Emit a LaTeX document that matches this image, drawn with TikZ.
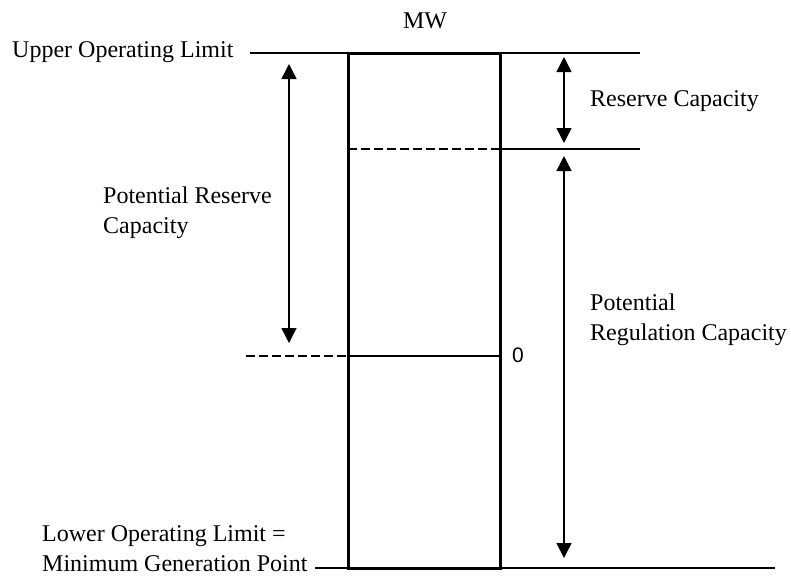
\documentclass[tikz,border=0pt]{standalone}
\usepackage{fontspec}
\setmainfont{Liberation Serif}
\newfontfamily\zerofont{Liberation Sans}
\usetikzlibrary{arrows.meta}
\begin{document}
\begin{tikzpicture}[x=1pt,y=-1pt,
  thin line/.style={line width=1.4pt},
  box line/.style={line width=3pt},
  dash line/.style={line width=2.6pt, dash pattern=on 9pt off 4pt},
  dim arrow/.style={line width=1.4pt, {Triangle[width=15pt,length=15pt]}-{Triangle[width=15pt,length=15pt]}},
  lbl/.style={font=\fontsize{24}{30}\selectfont, inner sep=0pt, align=left},
]
\useasboundingbox (0,0) rectangle (791,579);
% key coordinates
\coordinate (ulL) at (250,53);
\coordinate (bTL) at (348,53);
\coordinate (bTR) at (500,53);
\coordinate (ulR) at (640,53);
\coordinate (rL) at (348,149);
\coordinate (rR) at (500,149);
\coordinate (rE) at (640,149);
\coordinate (zS) at (246,356);
\coordinate (zL) at (348,356);
\coordinate (zR) at (500,356);
\coordinate (llS) at (315,568);
\coordinate (bBL) at (348,568);
\coordinate (bBR) at (500,568);
\coordinate (llE) at (775,568);
\coordinate (a1t) at (289,64);
\coordinate (a1b) at (289,343);
\coordinate (a2t) at (564,57);
\coordinate (a2b) at (564,143);
\coordinate (a3t) at (564,156);
\coordinate (a3b) at (564,558);
% lines
\draw[thin line] (ulL) -- (bTL);
\draw[thin line] (bTR) -- (ulR);
\draw[thin line] (rR) -- (rE);
\draw[thin line] (llS) -- (bBL);
\draw[thin line] (bBR) -- (llE);
\draw[dash line] (rL) -- (rR);
\draw[dash line] (zS) -- (zL);
\draw[line width=2.6pt] (zL) -- (zR);
\draw[box line] (bTL) rectangle (bBR);
% arrows
\draw[dim arrow] (a1t) -- (a1b);
\draw[dim arrow] (a2t) -- (a2b);
\draw[dim arrow] (a3t) -- (a3b);
% labels
\node[lbl, anchor=center] (mw) at (425,21) {MW};
\node[lbl, anchor=west] (ul) at (12,52) {Upper Operating Limit};
\node[lbl, anchor=west] (rc) at (590,101) {Reserve Capacity};
\node[lbl, anchor=west] (prc) at (103,213) {Potential Reserve\\Capacity};
\node[lbl, anchor=west] (preg) at (590,320) {Potential\\Regulation Capacity};
\node[font=\zerofont\fontsize{21}{24}\selectfont, inner sep=0pt, anchor=west] (zero) at (512,355) {0};
\node[lbl, anchor=west] (ll) at (42,549) {Lower Operating Limit =\\Minimum Generation Point};
\end{tikzpicture}
\end{document}
